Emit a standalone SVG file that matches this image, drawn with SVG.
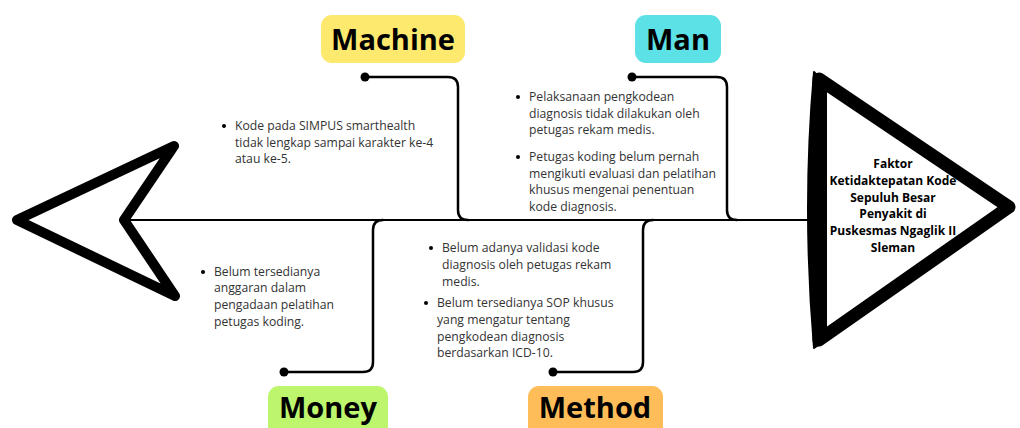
<svg xmlns="http://www.w3.org/2000/svg" width="1020" height="428" viewBox="0 0 1020 428">
<style>
.bone{fill:none;stroke:#000;stroke-width:2.5;stroke-linecap:round}
.head{fill:#fff;stroke:#000;stroke-linejoin:round}
.lbl{font-family:"Open Sans","Noto Sans",sans-serif;font-weight:bold;font-size:29px;fill:#000;text-anchor:middle}
.txt{font-family:"Open Sans","Noto Sans",sans-serif;font-size:12.2px;fill:#333}
.eff{font-family:"Open Sans","Noto Sans",sans-serif;font-weight:bold;font-size:12px;fill:#000;text-anchor:middle}
</style>
<rect width="1020" height="428" fill="#fff"/>
<g id="connectors">
<line x1="128" y1="220" x2="812" y2="220" stroke="#000" stroke-width="2"/>
<path class="bone" d="M365,77 H448 Q458,77 458,87 V210 Q458,220 468,220"/>
<path class="bone" d="M632,77 H717 Q727,77 727,87 V210 Q727,220 737,220"/>
<path class="bone" d="M284,372 H363 Q373,372 373,362 V230 Q373,220 383,220"/>
<path class="bone" d="M553,372 H633 Q643,372 643,362 V230 Q643,220 653,220"/>
<circle cx="365" cy="77" r="4.5"/>
<circle cx="632" cy="77" r="4.5"/>
<circle cx="284" cy="372" r="4.5"/>
<circle cx="553" cy="372" r="4.5"/>
</g>
<g id="tail">
<polygon class="head" stroke-width="10" points="17,220 174,146 124,220 175,296"/>
</g>
<g id="effect">
<polygon class="head" stroke-width="13" points="819,79 1009,207 819,340"/>
<path d="M814,72 Q802,207 814,348 L826,340 L826,86 Z" fill="#000" stroke="#000" stroke-width="2" stroke-linejoin="round"/>
<text class="eff" x="893" y="168">Faktor</text>
<text class="eff" x="893" y="185">Ketidaktepatan Kode</text>
<text class="eff" x="893" y="202">Sepuluh Besar</text>
<text class="eff" x="893" y="218">Penyakit di</text>
<text class="eff" x="893" y="235">Puskesmas Ngaglik II</text>
<text class="eff" x="893" y="252">Sleman</text>
</g>
<g id="machine">
<rect x="321" y="15" width="144" height="48" rx="11" fill="#fde96e"/>
<text class="lbl" x="393" y="50">Machine</text>
<circle cx="224" cy="126" r="2"/>
<text class="txt"><tspan x="235" y="130">Kode pada SIMPUS smarthealth</tspan><tspan x="235" y="147">tidak lengkap sampai karakter ke-4</tspan><tspan x="235" y="163">atau ke-5.</tspan></text>
</g>
<g id="man">
<rect x="635" y="15" width="86" height="48" rx="11" fill="#5ce1e6"/>
<text class="lbl" x="678" y="50">Man</text>
<circle cx="518" cy="97" r="2"/>
<text class="txt"><tspan x="529" y="101">Pelaksanaan pengkodean</tspan><tspan x="529" y="118">diagnosis tidak dilakukan oleh</tspan><tspan x="529" y="134">petugas rekam medis.</tspan></text>
<circle cx="518" cy="157" r="2"/>
<text class="txt"><tspan x="529" y="161">Petugas koding belum pernah</tspan><tspan x="529" y="178">mengikuti evaluasi dan pelatihan</tspan><tspan x="529" y="194">khusus mengenai penentuan</tspan><tspan x="529" y="211">kode diagnosis.</tspan></text>
</g>
<g id="money">
<rect x="268" y="386" width="120" height="52" rx="11" fill="#bdf56c"/>
<text class="lbl" x="328" y="418">Money</text>
<circle cx="203" cy="272" r="2"/>
<text class="txt"><tspan x="214" y="276">Belum tersedianya</tspan><tspan x="214" y="292">anggaran dalam</tspan><tspan x="214" y="309">pengadaan pelatihan</tspan><tspan x="214" y="326">petugas koding.</tspan></text>
</g>
<g id="method">
<rect x="528" y="386" width="135" height="52" rx="11" fill="#ffbd59"/>
<text class="lbl" x="595" y="418">Method</text>
<circle cx="431" cy="248" r="2"/>
<text class="txt"><tspan x="442" y="252">Belum adanya validasi kode</tspan><tspan x="442" y="269">diagnosis oleh petugas rekam</tspan><tspan x="442" y="286">medis.</tspan></text>
<circle cx="426" cy="303" r="2"/>
<text class="txt"><tspan x="437" y="307">Belum tersedianya SOP khusus</tspan><tspan x="437" y="324">yang mengatur tentang</tspan><tspan x="437" y="341">pengkodean diagnosis</tspan><tspan x="437" y="357">berdasarkan ICD-10.</tspan></text>
</g>
</svg>
